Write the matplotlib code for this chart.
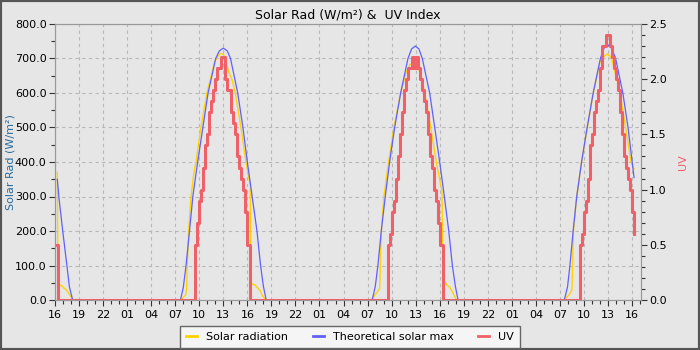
import numpy as np
import matplotlib.pyplot as plt
from matplotlib.lines import Line2D
from matplotlib.patches import Rectangle
from matplotlib.ticker import MultipleLocator, FixedLocator, FixedFormatter


# hours of the day, one list per day; day offsets added below
day_offsets = [0, 24, 48, 72]

# Solar radiation (W/m2)
sol_t0 = [16.29, 16.38, 16.9, 17.1, 17.5, 17.9, 18.2, 18.35]
sol_w0 = [370, 48, 40, 35, 27, 12, 3, 0]
sol_t1 = [7.5, 7.9, 8.3, 8.42, 8.5, 8.68, 8.97, 9.38, 9.6, 10.2, 10.96, 11.5, 11.9, 12.3, 12.6,
          13.0, 13.25, 13.66, 14.1, 14.5, 15.2, 15.83, 16.1, 16.38, 16.45, 16.9, 17.3, 17.6, 17.9, 18.3]
sol_w1 = [0, 5, 15, 30, 100, 200, 300, 377, 400, 500, 600, 650, 690, 705, 715,
          712, 700, 662, 638, 600, 500, 400, 365, 330, 48, 44, 35, 27, 12, 0]
sol_t2 = [7.46, 8.08, 8.5, 8.55, 8.58, 8.71, 9.04, 9.63, 10.29, 11.13, 11.8, 12.3, 12.6, 12.9,
          13.3, 13.63, 14.13, 14.88, 15.58, 16.29, 16.42, 16.62, 16.92, 17.25, 17.58, 17.88, 18.1]
sol_w2 = [0, 19, 33, 60, 100, 198, 300, 400, 500, 600, 660, 682, 687, 684,
          672, 656, 600, 500, 400, 314, 58, 53, 43, 37, 24, 10, 0]
sol_t3 = [7.45, 7.85, 8.2, 8.5, 8.58, 8.68, 9.09, 9.7, 10.42, 11.17, 12.0, 12.5, 12.9, 13.1,
          13.46, 14.5, 15.2, 15.87, 16.25]
sol_w3 = [0, 8, 17, 29, 100, 200, 300, 400, 500, 600, 690, 706, 713, 710,
          700, 600, 500, 400, 380]

# Theoretical solar max (W/m2)
max_t0 = [16.29, 16.5, 17.0, 17.5, 17.8, 18.2]
max_w0 = [350, 295, 193, 97, 38, 0]
max_t1 = [7.65, 8.0, 8.35, 8.78, 9.2, 9.8, 10.45, 11.1, 12.05, 12.5, 13.0, 13.5, 13.9, 14.8,
          15.45, 16.0, 16.6, 17.2, 17.65, 18.0, 18.35]
max_w1 = [0, 35, 100, 200, 300, 400, 500, 600, 700, 722, 730, 722, 700, 600,
          500, 400, 300, 200, 100, 40, 0]
max_t2 = [7.58, 7.96, 8.29, 8.71, 9.21, 9.75, 10.38, 11.13, 12.04, 12.5, 12.96, 13.4, 13.83, 14.75,
          15.38, 16.0, 16.58, 17.13, 17.58, 17.96, 18.29]
max_w2 = [0, 39, 100, 200, 300, 400, 500, 600, 700, 728, 736, 728, 700, 600,
          500, 400, 300, 200, 100, 39, 0]
max_t3 = [7.55, 7.95, 8.25, 8.65, 9.1, 9.7, 10.4, 11.15, 12.05, 12.5, 13.0, 13.45, 13.95, 14.85,
          15.5, 16.02, 16.25]
max_w3 = [0, 38, 100, 200, 300, 400, 500, 600, 700, 730, 739, 730, 700, 600,
          500, 400, 355]

# UV index, every 15 min from 09:30 to 16:15
uv_start = 9.5
uv_d1 = [0.5, 0.7, 0.9, 1.0, 1.2, 1.4, 1.5, 1.7, 1.8, 1.9, 2.0, 2.1, 2.1, 2.2,
         2.2, 2.0, 1.9, 1.9, 1.7, 1.6, 1.5, 1.3, 1.2, 1.1, 1.0, 0.8, 0.5, 0.5]
uv_d2 = [0.5, 0.6, 0.8, 0.9, 1.1, 1.3, 1.5, 1.7, 1.9, 2.0, 2.1, 2.1, 2.2, 2.1,
         2.2, 2.1, 2.0, 1.9, 1.8, 1.7, 1.5, 1.3, 1.2, 1.0, 0.9, 0.7, 0.5, 0.5]
uv_d3 = [0.5, 0.6, 0.8, 0.9, 1.1, 1.4, 1.5, 1.7, 1.8, 1.9, 2.1, 2.3, 2.3, 2.4,
         2.4, 2.3, 2.2, 2.1, 2.0, 1.9, 1.7, 1.5, 1.3, 1.2, 1.1, 1.0, 0.8, 0.6]
uv_t0 = [16.29, 16.38]
uv_v0 = [0.5, 0.0]
uv_off = [16.3, 16.4]   # time UV falls back to 0 on day 1 and day 2

xticks = list(range(16, 89, 3))

SOL_C = '#ffd200'
MAX_C = '#6060ff'
UV_C = '#f06068'


def join(ts, ws):
    t = np.concatenate([np.array(a) + o for a, o in zip(ts, day_offsets)])
    w = np.concatenate([np.array(b, dtype=float) for b in ws])
    return t, w


sol_t, sol_w = join([sol_t0, sol_t1, sol_t2, sol_t3], [sol_w0, sol_w1, sol_w2, sol_w3])
max_t, max_w = join([max_t0, max_t1, max_t2, max_t3], [max_w0, max_w1, max_w2, max_w3])

uv_t = list(uv_t0)
uv_v = list(uv_v0)
for k, vals in enumerate([uv_d1, uv_d2, uv_d3]):
    base = day_offsets[k + 1]
    uv_t += [base + uv_start + 0.25 * i for i in range(len(vals))]
    uv_v += vals
    if k < 2:
        uv_t.append(base + uv_off[k])
        uv_v.append(0.0)

plt.rcParams['font.family'] = 'DejaVu Sans'
fig = plt.figure(figsize=(7, 3.5), dpi=100, facecolor='#e6e6e6')
ax = fig.add_axes([55 / 700, 1 - 300 / 350, 585.7 / 700, 276 / 350])
ax.set_facecolor('#e6e6e6')
ax2 = ax.twinx()

ax.plot(sol_t, sol_w, color=SOL_C, lw=1.0, zorder=3)
ax.plot(max_t, max_w, color=MAX_C, lw=0.9, zorder=4)
ax2.plot(uv_t, uv_v, color=UV_C, lw=2.2, drawstyle='steps-post', zorder=5)

ax.set_xlim(16, 89.08)
ax.set_ylim(0, 800)
ax2.set_ylim(0, 2.5)

ax.xaxis.set_major_locator(FixedLocator(xticks))
ax.xaxis.set_major_formatter(FixedFormatter(['%02d' % (h % 24) for h in xticks]))
ax.xaxis.set_minor_locator(MultipleLocator(1))
ax.yaxis.set_major_locator(MultipleLocator(100))
ax.yaxis.set_minor_locator(MultipleLocator(50))
ax.yaxis.set_major_formatter('{x:.1f}')
ax2.yaxis.set_major_locator(MultipleLocator(0.5))
ax2.yaxis.set_minor_locator(MultipleLocator(0.1))
ax2.yaxis.set_major_formatter('{x:.1f}')

for a in (ax, ax2):
    a.tick_params(which='major', length=4, width=0.8, color='#333333', labelsize=8, pad=2)
    a.tick_params(which='minor', length=3, width=0.8, color='#333333')
    for s in a.spines.values():
        s.set_color('#999999')
ax.tick_params(axis='x', pad=3)

ax.grid(True, which='major', color='#b8b8b8', linestyle=(0, (3, 3)), linewidth=0.8)
ax.set_axisbelow(True)

ax.set_ylabel('Solar Rad (W/m²)', color='#2a6a9a', fontsize=8)
ax.yaxis.set_label_coords(-0.068, 0.5)
ax2.set_ylabel('UV', color=UV_C, fontsize=8, labelpad=8)
ax.set_title('Solar Rad (W/m²) &  UV Index', fontsize=9, pad=4)

handles = [Line2D([], [], color=SOL_C, lw=2),
           Line2D([], [], color=MAX_C, lw=2),
           Line2D([], [], color=UV_C, lw=2)]
leg = fig.legend(handles, ['Solar radiation', 'Theoretical solar max', 'UV'],
                 loc='lower center', bbox_to_anchor=(0.5, 0.006), ncol=3, fontsize=8,
                 frameon=True, fancybox=False, edgecolor='#666666', facecolor='#f5f5f5',
                 framealpha=1, handlelength=1.0, columnspacing=2.2, borderpad=0.55,
                 borderaxespad=0)
leg.get_frame().set_linewidth(1.0)

fig.add_artist(Rectangle((0, 0), 1, 1, transform=fig.transFigure, fill=False,
                         edgecolor='#555555', linewidth=3))

fig.savefig('out.png', dpi=100, facecolor=fig.get_facecolor())
